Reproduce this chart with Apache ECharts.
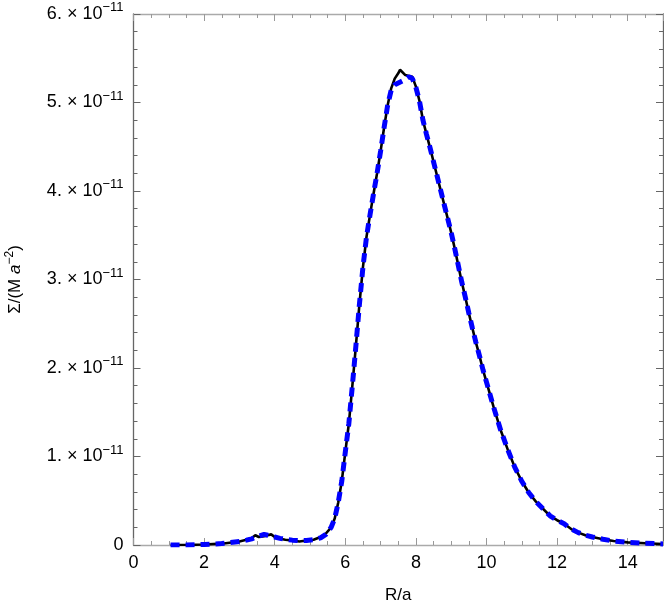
<!DOCTYPE html>
<html>
<head>
<meta charset="utf-8">
<title>Sigma profile</title>
<script src="https://cdn.jsdelivr.net/npm/echarts@6/dist/echarts.min.js"></script>
<style>
  html, body { margin: 0; padding: 0; background: #fff; }
  .chart { width: 664px; height: 615px; }
</style>
</head>
<body>
<div class="chart"></div>
<script>
// R/a sample points
var rVals = [1.05, 1.5, 2.0, 2.5, 3.0, 3.2, 3.35, 3.45, 3.55, 3.7, 3.8, 3.9, 4.0, 4.15, 4.3, 4.5, 4.7, 4.9, 5.1, 5.3, 5.45,
  5.6, 5.7, 5.8, 5.9, 6.0, 6.1, 6.2, 6.3, 6.4, 6.5, 6.6, 6.7, 6.8, 6.9, 7.0, 7.1, 7.2, 7.3, 7.4, 7.5, 7.55, 7.6, 7.7, 7.8, 7.9,
  8.0, 8.1, 8.2, 8.3, 8.4, 8.5, 8.6, 8.7, 8.8, 8.9, 9.0, 9.1, 9.2, 9.3, 9.4, 9.5, 9.6, 9.7, 9.8, 9.9, 10.0,
  10.2, 10.4, 10.6, 10.8, 11.0, 11.2, 11.4, 11.6, 11.8, 12.0, 12.2, 12.4, 12.6, 12.8, 13.0, 13.3, 13.6, 14.0, 14.5, 15.0];

// Sigma in units of 1e-11 (black solid)
var sigmaSolid = [0, 0.0, 0.005, 0.015, 0.04, 0.06, 0.08, 0.11, 0.09, 0.1, 0.11, 0.12, 0.09, 0.07, 0.06, 0.05, 0.04, 0.05, 0.06, 0.09, 0.13,
  0.2, 0.3, 0.48, 0.72, 1.05, 1.37, 1.80, 2.25, 2.72, 3.14, 3.48, 3.73, 3.97, 4.20, 4.45, 4.72, 4.97, 5.16, 5.27, 5.33, 5.37, 5.35, 5.31, 5.30, 5.29,
  5.18, 5.02, 4.80, 4.64, 4.49, 4.33, 4.17, 4.01, 3.85, 3.69, 3.53, 3.35, 3.16, 2.97, 2.80, 2.62, 2.45, 2.29, 2.14, 1.98, 1.84,
  1.56, 1.30, 1.08, 0.88, 0.72, 0.59, 0.49, 0.41, 0.33, 0.28, 0.24, 0.18, 0.14, 0.11, 0.09, 0.065, 0.045, 0.03, 0.02, 0.012];

// Sigma in units of 1e-11 (blue dashed)
var sigmaDashed = [0, 0.0, 0.006, 0.016, 0.04, 0.055, 0.07, 0.085, 0.1, 0.12, 0.11, 0.1, 0.09, 0.075, 0.065, 0.055, 0.05, 0.05, 0.06, 0.08, 0.12,
  0.2, 0.3, 0.48, 0.72, 1.05, 1.37, 1.80, 2.25, 2.72, 3.14, 3.48, 3.73, 3.97, 4.20, 4.45, 4.72, 4.97, 5.14, 5.20, 5.22, 5.23, 5.24, 5.26, 5.29, 5.27,
  5.17, 5.02, 4.80, 4.64, 4.49, 4.33, 4.17, 4.01, 3.85, 3.69, 3.53, 3.35, 3.16, 2.97, 2.80, 2.62, 2.45, 2.29, 2.14, 1.98, 1.84,
  1.56, 1.30, 1.08, 0.88, 0.72, 0.59, 0.49, 0.41, 0.33, 0.28, 0.24, 0.18, 0.14, 0.11, 0.09, 0.065, 0.045, 0.03, 0.02, 0.012];

var xTickLabels = [0, 2, 4, 6, 8, 10, 12, 14];
var yExponent = '−11';

(function() {
    var myChart = echarts.init(document.querySelector(".chart"));
    var font = '"Liberation Sans", Arial, sans-serif';

    function pairs(ys) {
        return rVals.map(function(r, i) { return [r, ys[i]]; });
    }

    // frame axis helper: major / minor ticks drawn inside
    function frameX(pos, step, len, showLine, labels) {
        return {
            type: 'value', position: pos, min: 0, max: 15, interval: step,
            axisLine: { show: showLine, onZero: false, lineStyle: { color: '#aaa', width: 1.3 } },
            axisTick: { show: true, inside: true, length: len, lineStyle: { color: '#999', width: 1 } },
            axisLabel: labels ? {
                show: true, margin: 9, color: '#000', fontSize: 18, fontFamily: font,
                showMaxLabel: false,
                formatter: function(v) { return xTickLabels.indexOf(v) >= 0 ? String(v) : ''; }
            } : { show: false },
            splitLine: { show: false }
        };
    }
    function frameY(pos, step, len, showLine, labels) {
        return {
            type: 'value', position: pos, min: 0, max: 6, interval: step,
            axisLine: { show: showLine, onZero: false, lineStyle: { color: '#666', width: 1.3 } },
            axisTick: { show: true, inside: true, length: len, lineStyle: { color: '#666', width: 1 } },
            axisLabel: labels ? {
                show: true, margin: 10, color: '#000', fontFamily: font,
                formatter: function(v) {
                    if (v === 0) return '{m|0}';
                    return '{m|' + v + '.}{x| × }{m|10}{s|' + yExponent + '}';
                },
                rich: {
                    m: { fontSize: 18, lineHeight: 26, fontFamily: font, color: '#000' },
                    x: { fontSize: 18, lineHeight: 26, fontFamily: font, color: '#000' },
                    s: { fontSize: 13, lineHeight: 14, verticalAlign: 'top', fontFamily: font, color: '#000' }
                }
            } : { show: false },
            splitLine: { show: false }
        };
    }

    var xMain = frameX('bottom', 2, 7, true, true);
    xMain.name = 'R/a';
    xMain.nameLocation = 'middle';
    xMain.nameGap = 42;
    xMain.nameTextStyle = { fontSize: 17, fontFamily: font, color: '#000' };

    var yMain = frameY('left', 1, 7, true, true);
    yMain.name = '{t|Σ/(M }{i|a}{s|−2}{t|)}';
    yMain.nameLocation = 'middle';
    yMain.nameRotate = 90;
    yMain.nameGap = 106;
    yMain.nameTextStyle = {
        rich: {
            t: { fontSize: 17, lineHeight: 24, fontFamily: font, color: '#000' },
            i: { fontSize: 17, lineHeight: 24, fontStyle: 'italic', fontFamily: font, color: '#000' },
            s: { fontSize: 12, lineHeight: 13, verticalAlign: 'top', fontFamily: font, color: '#000' }
        }
    };

    var option = {
        animation: false,
        backgroundColor: '#fff',
        grid: { left: 133.5, right: 1, top: 14, bottom: 70, containLabel: false, outerBoundsMode: 'none' },
        xAxis: [
            xMain,
            frameX('bottom', 0.5, 4, false, false),
            frameX('top', 2, 7, true, false),
            frameX('top', 0.5, 4, false, false)
        ],
        yAxis: [
            yMain,
            frameY('left', 0.2, 4, false, false),
            frameY('right', 1, 7, true, false),
            frameY('right', 0.2, 4, false, false)
        ],
        series: [
            {
                name: 'solid', type: 'line', xAxisIndex: 0, yAxisIndex: 0,
                data: pairs(sigmaSolid), showSymbol: false,
                lineStyle: { color: '#000', width: 2.6 }, z: 2
            },
            {
                name: 'dashed', type: 'line', xAxisIndex: 0, yAxisIndex: 0,
                data: pairs(sigmaDashed), showSymbol: false,
                lineStyle: { color: '#0000ff', width: 5, type: [9, 6] }, z: 3
            }
        ]
    };

    myChart.setOption(option);
    window.addEventListener("resize", function() {
      myChart.resize();
    });
})();
</script>
</body>
</html>
